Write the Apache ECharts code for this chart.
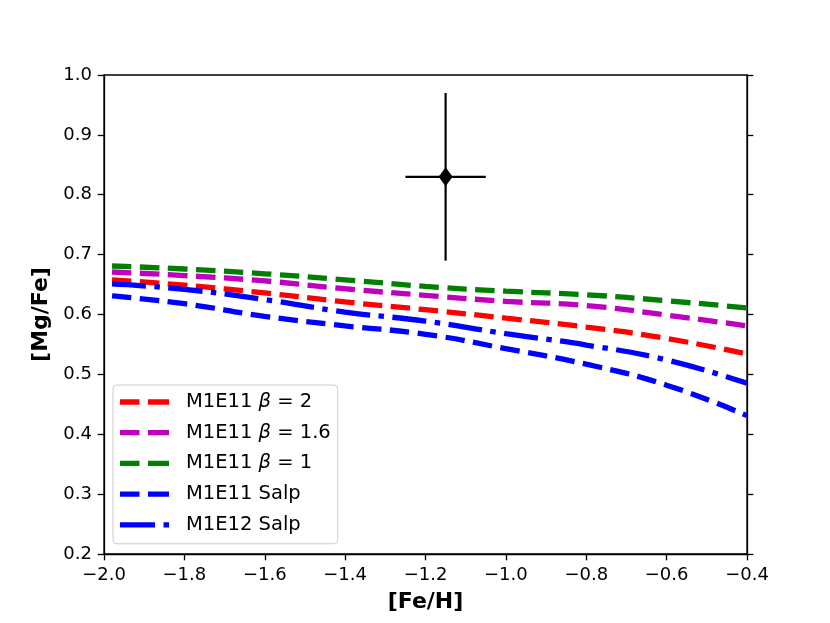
<!DOCTYPE html>
<html>
<head>
<meta charset="utf-8">
<script src="https://cdn.jsdelivr.net/npm/echarts@6/dist/echarts.min.js"></script>
<style>
html,body{margin:0;padding:0;background:#fff;}
#chart{width:830px;height:623px;}
</style>
</head>
<body>
<div id="chart"></div>
<script>
// ---- data ----
var feH = [-1.98, -1.8, -1.6, -1.4, -1.2, -1.0, -0.8, -0.6, -0.4];
var beta2   = [0.658, 0.649, 0.636, 0.621, 0.608, 0.594, 0.579, 0.560, 0.534];
var beta16  = [0.671, 0.665, 0.656, 0.643, 0.632, 0.622, 0.615, 0.599, 0.581];
var beta1   = [0.681, 0.676, 0.668, 0.658, 0.647, 0.639, 0.633, 0.623, 0.611];
var salp11  = [0.631, 0.618, 0.597, 0.581, 0.567, 0.543, 0.517, 0.482, 0.431];
var salp12  = [0.651, 0.642, 0.625, 0.604, 0.589, 0.568, 0.549, 0.524, 0.485];
var seriesNames = ['M1E11 β = 2', 'M1E11 β = 1.6', 'M1E11 β = 1', 'M1E11 Salp', 'M1E12 Salp'];
var obsFeH = [-1.15];
var obsMgFe = [0.83];
var obsFeHErr = [0.10];
var obsMgFeErr = [0.14];

function pairs(xs, ys){ return xs.map(function(x,i){ return [x, ys[i]]; }); }
function fmtTick(v){ var s = Math.abs(v).toFixed(1); return (v < -1e-9 ? '\u2212' : '') + s; }

var chart = echarts.init(document.getElementById('chart'), null, {renderer:'canvas'});
var font = 'DejaVu Sans';
var dashed = [19.5, 8.5];
var dashdot = [34, 8.5, 5.5, 8.5];
var LW = 5.3;
// legend handle glyphs (49 x 5.3 box)
var iconDashed = 'path://M0,0h19.5v5.3h-19.5z M28,0h21v5.3h-21z';
var iconDashDot = 'path://M0,0h35v5.3h-35z M43.5,0h5.5v5.3h-5.5z';
var colors = ['#ff0000', '#bf00bf', '#008000', '#0000ff', '#0000ff'];
var icons = [iconDashed, iconDashed, iconDashed, iconDashed, iconDashDot];

function lineSeries(name, ys, color, dash){
  return {
    type:'line', name:name, data:pairs(feH, ys), smooth:true, showSymbol:false, symbol:'none',
    clip:true, z:3,
    lineStyle:{color:color, width:LW, type:dash, cap:'butt'},
    itemStyle:{color:color}
  };
}

var option = {
  animation:false,
  backgroundColor:'#fff',
  grid:{left:104, right:83, top:75, bottom:69, show:true, borderColor:'#000', borderWidth:1.3, backgroundColor:'transparent'},
  xAxis:[{
    type:'value', min:-2.0, max:-0.4, interval:0.2, position:'bottom',
    axisLine:{show:true, onZero:false, lineStyle:{color:'#000', width:1.3}},
    axisTick:{show:true, inside:false, length:6.3, lineStyle:{color:'#000', width:1.3}},
    axisLabel:{show:true, margin:12, color:'#000', fontFamily:font, fontSize:18, formatter:fmtTick},
    splitLine:{show:false},
    name:'[Fe/H]', nameLocation:'middle', nameGap:37,
    nameTextStyle:{fontFamily:font, fontSize:22, fontWeight:'bold', color:'#000'}
  }],
  yAxis:[{
    type:'value', min:0.2, max:1.0, interval:0.1, position:'left',
    axisLine:{show:true, onZero:false, lineStyle:{color:'#000', width:1.3}},
    axisTick:{show:true, inside:false, length:6.3, lineStyle:{color:'#000', width:1.3}},
    axisLabel:{show:true, margin:12, color:'#000', fontFamily:font, fontSize:18, formatter:function(v){return v.toFixed(1);}},
    splitLine:{show:false},
    name:'[Mg/Fe]', nameLocation:'middle', nameGap:49, nameRotate:90,
    nameTextStyle:{fontFamily:font, fontSize:22, fontWeight:'bold', color:'#000'}
  },{
    type:'value', min:0.2, max:1.0, interval:0.1, position:'right',
    axisLine:{show:true, onZero:false, lineStyle:{color:'#000', width:1.3}},
    axisTick:{show:true, inside:false, length:6.3, lineStyle:{color:'#000', width:1.3}},
    axisLabel:{show:false},
    splitLine:{show:false}
  }],
  legend:{
    orient:'vertical', left:113, top:385,
    data:seriesNames.map(function(n, i){ return {name:n, icon:icons[i], itemStyle:{color:colors[i], opacity:1}}; }),
    itemWidth:49, itemHeight:5.3, itemGap:10.7,
    padding:[7,7,9,7],
    backgroundColor:'rgba(255,255,255,0.8)', borderColor:'#cccccc', borderWidth:1, borderRadius:4,
    textStyle:{fontFamily:font, fontSize:19.5, color:'#000', lineHeight:20,
      rich:{
        s:{fontFamily:font, fontSize:19.5, color:'#000', lineHeight:20, padding:[0,0,0,12]},
        a:{fontFamily:font, fontSize:19.5, color:'#000', lineHeight:20},
        b:{fontFamily:font, fontSize:19.5, fontStyle:'italic', color:'#000', lineHeight:20}
      }
    },
    formatter:function(name){
      if (name.indexOf('β') >= 0){
        var parts = name.split('β');
        return '{s|' + parts[0] + '}{b|β}{a|' + parts[1] + '}';
      }
      return '{s|' + name + '}';
    },
    selectedMode:false
  },
  series:[
    lineSeries(seriesNames[0], beta2, colors[0], dashed),
    lineSeries(seriesNames[1], beta16, colors[1], dashed),
    lineSeries(seriesNames[2], beta1, colors[2], dashed),
    lineSeries(seriesNames[3], salp11, colors[3], dashed),
    lineSeries(seriesNames[4], salp12, colors[4], dashdot),
    {
      type:'custom', name:'obs', z:5,
      data:obsFeH.map(function(x,i){ return [x, obsMgFe[i], obsFeHErr[i], obsMgFeErr[i]]; }),
      renderItem:function(params, api){
        var x = api.value(0), y = api.value(1), ex = api.value(2), ey = api.value(3);
        var c = api.coord([x, y]);
        var l = api.coord([x - ex, y]), r = api.coord([x + ex, y]);
        var t = api.coord([x, y + ey]), b = api.coord([x, y - ey]);
        var st = {stroke:'#000', lineWidth:2.2};
        return {type:'group', children:[
          {type:'line', shape:{x1:l[0], y1:l[1], x2:r[0], y2:r[1]}, style:st},
          {type:'line', shape:{x1:t[0], y1:t[1], x2:b[0], y2:b[1]}, style:st},
          {type:'polygon', shape:{points:[[c[0], c[1]-9.5],[c[0]+7, c[1]],[c[0], c[1]+9.5],[c[0]-7, c[1]]]}, style:{fill:'#000'}}
        ]};
      }
    }
  ]
};
chart.setOption(option);
</script>
</body>
</html>
